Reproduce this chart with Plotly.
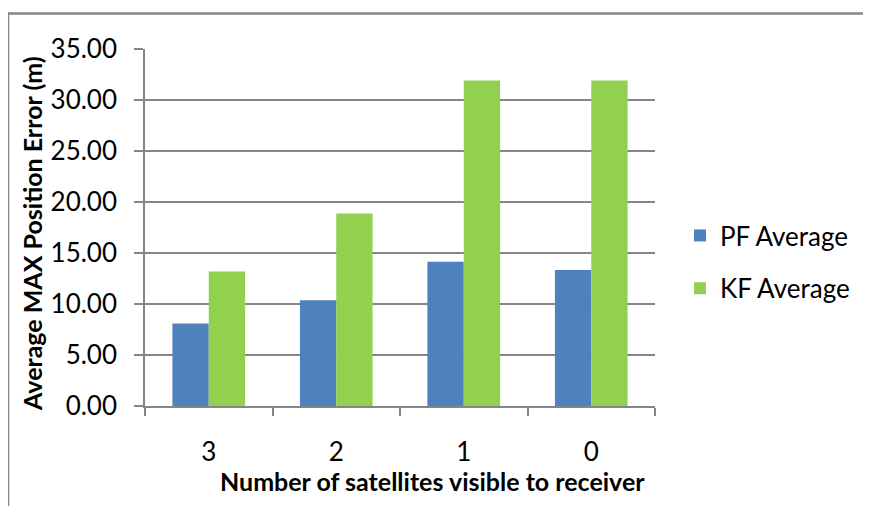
import plotly.graph_objects as go

categories = ["3", "2", "1", "0"]
pf_average = [8.08, 10.37, 14.15, 13.33]
kf_average = [13.18, 18.88, 31.90, 31.90]
y_ticks = [0, 5, 10, 15, 20, 25, 30, 35]
y_tick_labels = ["0.00", "5.00", "10.00", "15.00", "20.00", "25.00", "30.00", "35.00"]

FONT = "Lato, Carlito, 'Liberation Sans', sans-serif"
GRAY = "#868686"

fig = go.Figure()
fig.add_trace(go.Bar(x=categories, y=pf_average, name="PF Average",
                     marker=dict(color="#4F81BD", line=dict(width=0)),
                     legendgroup="pf"))
fig.add_trace(go.Bar(x=categories, y=kf_average, name="KF Average",
                     marker=dict(color="#92D050", line=dict(width=0)),
                     legendgroup="kf"))

OFF = 8  # page body margin
W, H = 871 - OFF, 506 - OFF
L, R, T, B = 145 - OFF, 655 - OFF, 48.5 - OFF, 406.5 - OFF

def px(x):
    return (x - OFF - L) / (R - L)

def py(y):
    return (B - (y - OFF)) / (B - T)

fig.update_layout(
    width=W, height=H,
    margin=dict(l=L, r=W - R, t=T, b=H - B, autoexpand=False),
    paper_bgcolor="white", plot_bgcolor="white",
    bargap=0.43, bargroupgap=0,
    font=dict(family=FONT, color="black", size=26),
    showlegend=True,
    legend=dict(x=px(680), y=py(212), xanchor="left", yanchor="top",
                font=dict(size=26, family=FONT), tracegroupgap=16,
                bgcolor="rgba(0,0,0,0)", itemwidth=30),
    xaxis=dict(
        type="category", showline=True, linecolor=GRAY, linewidth=1.5,
        ticks="outside", ticklen=8, tickcolor=GRAY, tickwidth=1.5,
        tickson="boundaries", ticklabelstandoff=22,
        tickfont=dict(size=26),
        showgrid=False,
    ),
    yaxis=dict(
        range=[0, 35], tickvals=y_ticks, ticktext=y_tick_labels,
        showline=True, linecolor=GRAY, linewidth=1.5,
        ticks="outside", ticklen=9, tickcolor=GRAY, tickwidth=1.5,
        ticklabelstandoff=12,
        showgrid=True, gridcolor=GRAY, gridwidth=1.5,
        tickfont=dict(size=26),
        zeroline=False,
    ),
    annotations=[
        dict(text="<b>Number of satellites visible to receiver</b>", xref="paper", yref="paper",
             x=px(432), y=py(482), xanchor="center", yanchor="middle", showarrow=False,
             font=dict(size=25, family=FONT, color="black")),
        dict(text="<b>Average MAX Position Error (m)</b>", xref="paper", yref="paper",
             x=px(32), y=py(234), xanchor="center", yanchor="middle", showarrow=False,
             textangle=-90, font=dict(size=25, family=FONT, color="black")),
    ],
)

# outer chart frame: only its top and left edges are visible in the picture
fig.add_shape(type="line", xref="paper", yref="paper",
              x0=px(7), x1=px(871 + 30), y0=py(13), y1=py(13),
              line=dict(color=GRAY, width=2.5), layer="below")
fig.add_shape(type="line", xref="paper", yref="paper",
              x0=px(8), x1=px(8), y0=py(12), y1=py(506 + 30),
              line=dict(color=GRAY, width=2.5), layer="below")

fig.write_html("out.html")
